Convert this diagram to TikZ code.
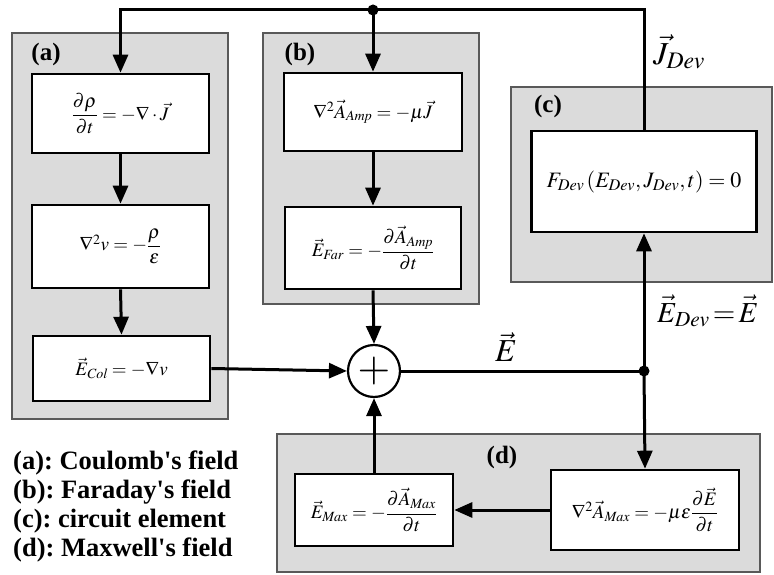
\documentclass[tikz,border=0pt]{standalone}
\usepackage{amsmath}
\usepackage{mathptmx}
\usepackage{fontspec}
\setmainfont{Liberation Serif}
\usetikzlibrary{arrows.meta}
\begin{document}
\begin{tikzpicture}[x=1pt,y=-1pt,
  panel/.style={fill=black!14,draw=black!65,line width=1.2pt},
  eqbox/.style={draw,fill=white,line width=2.6pt,inner sep=0pt,font=\fontsize{19}{22}\selectfont},
  arr/.style={line width=3pt,-{Triangle[length=18pt,width=15pt]}},
  wire/.style={line width=3pt},
  plab/.style={font=\fontsize{25}{27}\selectfont\bfseries},
  biglab/.style={font=\fontsize{32}{34}\selectfont,inner sep=0pt},
  dotnode/.style={circle,fill,inner sep=0pt,minimum size=11pt}]
\useasboundingbox (0,0) rectangle (774,575);
% panels
\draw[panel] (12,33) rectangle (228,419);
\draw[panel] (263,33) rectangle (479,304);
\draw[panel] (511,87) rectangle (772,282);
\draw[panel] (277,434) rectangle (760,572);
\node[plab] (la) at (46,54) {(a)};
\node[plab] (lb) at (300,54) {(b)};
\node[plab] (lc) at (548,106) {(c)};
\node[plab] (ld) at (502,457) {(d)};
% boxes
\node[eqbox,minimum width=177pt,minimum height=79pt] (a1) at (120.5,113.5) {$\dfrac{\partial\rho}{\partial t}=-\nabla\cdot\vec{J}$};
\node[eqbox,minimum width=177pt,minimum height=83pt] (a2) at (120.5,246.5) {$\nabla^{2}v=-\dfrac{\rho}{\varepsilon}$};
\node[eqbox,minimum width=177pt,minimum height=65pt] (a3) at (121.5,368.5) {$\vec{E}_{\mathit{Col}}=-\nabla v$};
\node[eqbox,minimum width=178pt,minimum height=78pt] (b1) at (373,112) {$\nabla^{2}\vec{A}_{\mathit{Amp}}=-\mu\vec{J}$};
\node[eqbox,minimum width=176pt,minimum height=82pt] (b2) at (373,248) {$\vec{E}_{\mathit{Far}}=-\dfrac{\partial\vec{A}_{\mathit{Amp}}}{\partial t}$};
\node[eqbox,minimum width=225pt,minimum height=101pt,font=\fontsize{22}{24}\selectfont] (c) at (644,181.5) {$F_{\mathit{Dev}}\left(E_{\mathit{Dev}},J_{\mathit{Dev}},t\right)=0$};
\node[eqbox,minimum width=188pt,minimum height=80pt] (d2) at (645,510) {$\nabla^{2}\vec{A}_{\mathit{Max}}=-\mu\varepsilon\dfrac{\partial\vec{E}}{\partial t}$};
\node[eqbox,minimum width=158pt,minimum height=72pt] (d1) at (374,510) {$\vec{E}_{\mathit{Max}}=-\dfrac{\partial\vec{A}_{\mathit{Max}}}{\partial t}$};
\node[circle,draw,fill=white,line width=2.2pt,minimum size=52pt,inner sep=0pt,font=\fontsize{42}{42}\selectfont] (plus) at (374,371) {$+$};
% junctions
\node[dotnode] (dtop) at (373,10) {};
\node[dotnode] (dE) at (644,371) {};
% connectors
\draw[arr] (c.north) |- (dtop.center) -| (a1.north);
\draw[arr] (dtop.center) -- (b1.north);
\draw[arr] (a1.south) -- (a2.north);
\draw[arr] (a2.south) -- (a3.north);
\draw[arr] (a3.east) -- (plus.west);
\draw[arr] (b1.south) -- (b2.north);
\draw[arr] (b2.south) -- (plus.north);
\draw[arr] (d1.north) -- (plus.south);
\draw[wire] (plus.east) -- (dE.center);
\draw[arr] (dE.center) -- (c.south);
\draw[arr] (dE.center) -- (d2.north);
\draw[arr] (d2.west) -- (d1.east);
% labels
\node[biglab] (lE) at (506,347) {$\vec{E}$};
\node[biglab,anchor=west,font=\fontsize{29}{31}\selectfont] (lEd) at (657,311) {$\vec{E}_{\mathit{Dev}}\!=\!\vec{E}$};
\node[biglab,anchor=west] (lJ) at (653,52) {$\vec{J}_{\mathit{Dev}}$};
\node[font=\fontsize{26.5}{29}\selectfont\bfseries,align=left,anchor=north west,inner sep=0pt] (leg) at (13,451) {(a):~Coulomb\textquotesingle s field\\(b):~Faraday\textquotesingle s field\\(c):~circuit element\\(d):~Maxwell\textquotesingle s field};
\end{tikzpicture}
\end{document}
